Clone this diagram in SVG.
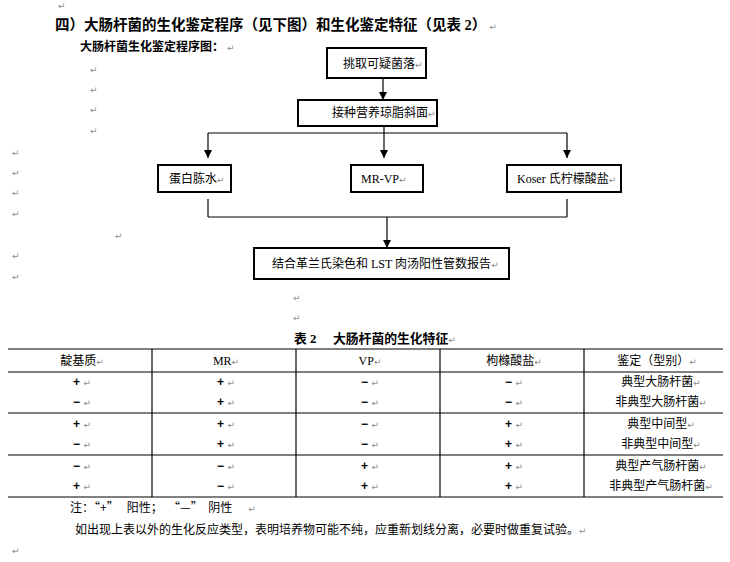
<svg xmlns="http://www.w3.org/2000/svg" width="730" height="562" viewBox="0 0 730 562">
<style>
  .bg { fill: #ffffff; }
  .box { fill: #ffffff; stroke: #000000; stroke-width: 2; }
  .ln { stroke: #000000; stroke-width: 1.2; fill: none; }
  .tl { stroke: #000000; stroke-width: 1.2; fill: none; }
  .t { font-family: "Liberation Serif", "Noto Sans CJK SC", serif; font-size: 12px; fill: #000; }
  .c { font-family: "Noto Sans CJK SC", sans-serif; font-size: 12px; fill: #000; }
  .b { font-family: "Liberation Serif", "Noto Sans CJK SC", serif; font-size: 14.5px; font-weight: bold; fill: #000; }
  .bs { font-family: "Liberation Serif", "Noto Sans CJK SC", serif; font-size: 12px; font-weight: bold; fill: #000; }
  .cap { font-family: "Liberation Serif", "Noto Sans CJK SC", serif; font-size: 12.8px; font-weight: bold; fill: #000; }
  .pm { font-family: "DejaVu Sans", sans-serif; font-size: 9px; fill: #8c8c8c; font-weight: normal; }
  .sg { font-family: "Liberation Sans", sans-serif; font-size: 12px; font-weight: bold; fill: #000; }
  .mid { text-anchor: middle; }
  .pre { white-space: pre; }
</style>
<defs>
  <marker id="arr" viewBox="0 0 10 10" refX="10" refY="5" markerWidth="8" markerHeight="8" markerUnits="userSpaceOnUse" orient="auto">
    <path d="M0,0 L10,5 L0,10 Z" fill="#000"/>
  </marker>
</defs>
<rect class="bg" x="0" y="0" width="730" height="562"/>

<!-- heading texts -->
<g id="heading">
  <text class="pm" x="58" y="9">↵</text>
  <text class="b pre" x="55" y="30">四）大肠杆菌的生化鉴定程序（见下图）和生化鉴定特征（见表 2）<tspan class="pm"> ↵</tspan></text>
  <text class="bs" x="80" y="51">大肠杆菌生化鉴定程序图：<tspan class="pm"> ↵</tspan></text>
  <text class="pm" x="90" y="73">↵</text>
  <text class="pm" x="90" y="93">↵</text>
  <text class="pm" x="90" y="113">↵</text>
  <text class="pm" x="90" y="134">↵</text>
  <text class="pm" x="12" y="156">↵</text>
  <text class="pm" x="12" y="176">↵</text>
  <text class="pm" x="12" y="196">↵</text>
  <text class="pm" x="12" y="217">↵</text>
  <text class="pm" x="115" y="239">↵</text>
  <text class="pm" x="12" y="259">↵</text>
  <text class="pm" x="12" y="280">↵</text>
  <text class="pm" x="293" y="301">↵</text>
  <text class="pm" x="293" y="321">↵</text>
</g>

<!-- flowchart nodes -->
<g id="n1">
  <rect class="box" x="327" y="48" width="99" height="30"/>
  <text class="c" x="343" y="68">挑取可疑菌落<tspan class="pm">↵</tspan></text>
</g>
<g id="n2">
  <rect class="box" x="298" y="100" width="139" height="26"/>
  <text class="c" x="332" y="117">接种营养琼脂斜面<tspan class="pm">↵</tspan></text>
</g>
<g id="n3">
  <rect class="box" x="158" y="165" width="73" height="27"/>
  <text class="c" x="169" y="183">蛋白胨水<tspan class="pm">↵</tspan></text>
</g>
<g id="n4">
  <rect class="box" x="351" y="165" width="72" height="27"/>
  <text class="t" x="361" y="183">MR-VP<tspan class="pm">↵</tspan></text>
</g>
<g id="n5">
  <rect class="box" x="507" y="165" width="114" height="27"/>
  <text class="t" x="517" y="183">Koser 氏柠檬酸盐<tspan class="pm">↵</tspan></text>
</g>
<g id="n6">
  <rect class="box" x="254" y="248" width="255" height="31"/>
  <text class="t" x="272" y="268">结合革兰氏染色和 LST 肉汤阳性管数报告<tspan class="pm">↵</tspan></text>
</g>

<!-- connectors -->
<g id="connectors">
  <line class="ln" x1="383" y1="78" x2="383" y2="100" marker-end="url(#arr)"/>
  <line class="ln" x1="384" y1="126" x2="384" y2="133"/>
  <line class="ln" x1="208" y1="133" x2="567" y2="133"/>
  <line class="ln" x1="208" y1="133" x2="208" y2="158" marker-end="url(#arr)"/>
  <line class="ln" x1="384" y1="133" x2="384" y2="158" marker-end="url(#arr)"/>
  <line class="ln" x1="567" y1="133" x2="567" y2="158" marker-end="url(#arr)"/>
  <line class="ln" x1="208" y1="199" x2="208" y2="217"/>
  <line class="ln" x1="567" y1="199" x2="567" y2="217"/>
  <line class="ln" x1="208" y1="217" x2="567" y2="217"/>
  <line class="ln" x1="387" y1="217" x2="387" y2="248" marker-end="url(#arr)"/>
</g>

<!-- table -->
<g id="table">
  <text class="cap" x="294" y="343">表 2<tspan x="333">大肠杆菌的生化特征</tspan><tspan class="pm">↵</tspan></text>
  <line class="tl" x1="8" y1="349" x2="723" y2="349"/>
  <line class="tl" x1="8" y1="372" x2="723" y2="372"/>
  <line class="tl" x1="8" y1="413" x2="723" y2="413"/>
  <line class="tl" x1="8" y1="455" x2="723" y2="455"/>
  <line class="tl" x1="8" y1="497" x2="723" y2="497"/>
  <line class="tl" x1="152" y1="349" x2="152" y2="497"/>
  <line class="tl" x1="296" y1="349" x2="296" y2="497"/>
  <line class="tl" x1="440" y1="349" x2="440" y2="497"/>
  <line class="tl" x1="584" y1="349" x2="584" y2="497"/>

  <text class="c mid" x="82" y="365">靛基质<tspan class="pm">↵</tspan></text>
  <text class="t mid" x="226" y="365">MR<tspan class="pm">↵</tspan></text>
  <text class="t mid" x="370" y="365">VP<tspan class="pm">↵</tspan></text>
  <text class="c mid" x="514" y="365">枸橼酸盐<tspan class="pm">↵</tspan></text>
  <text class="c mid pre" x="657" y="365">鉴定（型别）<tspan class="pm">↵</tspan></text>

  <g class="sg">
    <text class="sg mid pre" x="82" y="386">+ <tspan class="pm">↵</tspan></text>
    <text class="sg mid pre" x="82" y="406">− <tspan class="pm">↵</tspan></text>
    <text class="sg mid pre" x="82" y="428">+ <tspan class="pm">↵</tspan></text>
    <text class="sg mid pre" x="82" y="448">− <tspan class="pm">↵</tspan></text>
    <text class="sg mid pre" x="82" y="470">− <tspan class="pm">↵</tspan></text>
    <text class="sg mid pre" x="82" y="490">+ <tspan class="pm">↵</tspan></text>

    <text class="sg mid pre" x="226" y="386">+ <tspan class="pm">↵</tspan></text>
    <text class="sg mid pre" x="226" y="406">+ <tspan class="pm">↵</tspan></text>
    <text class="sg mid pre" x="226" y="428">+ <tspan class="pm">↵</tspan></text>
    <text class="sg mid pre" x="226" y="448">+ <tspan class="pm">↵</tspan></text>
    <text class="sg mid pre" x="226" y="470">− <tspan class="pm">↵</tspan></text>
    <text class="sg mid pre" x="226" y="490">− <tspan class="pm">↵</tspan></text>

    <text class="sg mid pre" x="370" y="386">− <tspan class="pm">↵</tspan></text>
    <text class="sg mid pre" x="370" y="406">− <tspan class="pm">↵</tspan></text>
    <text class="sg mid pre" x="370" y="428">− <tspan class="pm">↵</tspan></text>
    <text class="sg mid pre" x="370" y="448">− <tspan class="pm">↵</tspan></text>
    <text class="sg mid pre" x="370" y="470">+ <tspan class="pm">↵</tspan></text>
    <text class="sg mid pre" x="370" y="490">+ <tspan class="pm">↵</tspan></text>

    <text class="sg mid pre" x="514" y="386">− <tspan class="pm">↵</tspan></text>
    <text class="sg mid pre" x="514" y="406">− <tspan class="pm">↵</tspan></text>
    <text class="sg mid pre" x="514" y="428">+ <tspan class="pm">↵</tspan></text>
    <text class="sg mid pre" x="514" y="448">+ <tspan class="pm">↵</tspan></text>
    <text class="sg mid pre" x="514" y="470">+ <tspan class="pm">↵</tspan></text>
    <text class="sg mid pre" x="514" y="490">+ <tspan class="pm">↵</tspan></text>
  </g>

  <text class="c mid" x="661" y="386">典型大肠杆菌<tspan class="pm">↵</tspan></text>
  <text class="c mid" x="661" y="406">非典型大肠杆菌<tspan class="pm">↵</tspan></text>
  <text class="c mid" x="661" y="428">典型中间型<tspan class="pm">↵</tspan></text>
  <text class="c mid" x="661" y="448">非典型中间型<tspan class="pm">↵</tspan></text>
  <text class="c mid" x="661" y="470">典型产气肠杆菌<tspan class="pm">↵</tspan></text>
  <text class="c mid" x="661" y="490">非典型产气肠杆菌<tspan class="pm">↵</tspan></text>
</g>

<!-- notes -->
<g id="notes">
  <text class="c pre" x="70" y="512">注：“+”   阳性；  “—”  阴性      <tspan class="pm">↵</tspan></text>
  <text class="c" x="75" y="534">如出现上表以外的生化反应类型，表明培养物可能不纯，应重新划线分离，必要时做重复试验。<tspan class="pm">↵</tspan></text>
  <text class="pm" x="12" y="554">↵</text>
</g>
</svg>
